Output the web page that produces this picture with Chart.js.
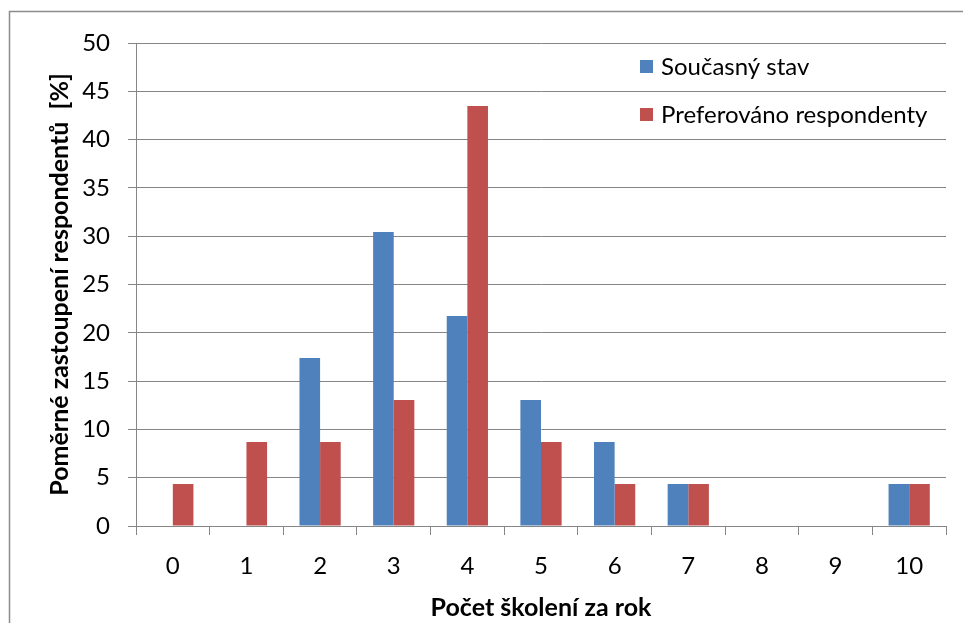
<!DOCTYPE html>
<html><head><meta charset="utf-8">
<script src="https://cdn.jsdelivr.net/npm/chart.js@4/dist/chart.umd.min.js"></script>
<style>html,body{margin:0;padding:0;background:#fff}#wrap{width:963px;height:623px}</style>
</head><body><div id="wrap"><canvas id="c" width="963" height="623"></canvas></div>
<script>
const categories = ["0","1","2","3","4","5","6","7","8","9","10"];
const currentState = [0, 0, 17.39, 30.43, 21.74, 13.04, 8.70, 4.35, 0, 0, 4.35];
const preferred = [4.35, 8.70, 8.70, 13.04, 43.48, 8.70, 4.35, 4.35, 0, 0, 4.35];
const seriesNames = ["Současný stav", "Preferováno respondenty"];
const yTicks = [0,5,10,15,20,25,30,35,40,45,50];

const FONT = "Lato, 'Liberation Sans', sans-serif";
const GRID = "#868686";

const frame = {
  id: 'frame',
  beforeDraw(chart) {
    const ctx = chart.ctx;
    ctx.save();
    ctx.fillStyle = '#fff';
    ctx.fillRect(0, 0, chart.width, chart.height);
    ctx.strokeStyle = '#8c8c8c';
    ctx.lineWidth = 1.5;
    ctx.strokeRect(9.5, 11.5, 1200, 1200);
    ctx.restore();
  }
};
const legendPlugin = {
  id: 'customLegend',
  afterDraw(chart) {
    const ctx = chart.ctx;
    ctx.save();
    ctx.font = "24px " + FONT;
    ctx.textBaseline = 'middle';
    chart.data.datasets.forEach((ds, i) => {
      const y = 67 + i * 48;
      ctx.fillStyle = ds.backgroundColor;
      ctx.fillRect(640, y - 7, 13, 13);
      ctx.fillStyle = '#000';
      ctx.fillText(ds.label, 661, y);
    });
    ctx.restore();
  }
};

new Chart(document.getElementById('c'), {
  type: 'bar',
  data: {
    labels: categories,
    datasets: [
      { label: seriesNames[0], data: currentState, backgroundColor: '#4F81BD', barPercentage: 1, categoryPercentage: 0.56 },
      { label: seriesNames[1], data: preferred, backgroundColor: '#C0504D', barPercentage: 1, categoryPercentage: 0.56 }
    ]
  },
  options: {
    responsive: false,
    animation: false,
    devicePixelRatio: 1,
    layout: { padding: { left: 0, top: 43, right: 17, bottom: 0 } },
    plugins: { legend: { display: false }, tooltip: { enabled: false } },
    scales: {
      x: {
        afterFit(s) { s.height = 97; },
        grid: { display: true, drawOnChartArea: false, offset: true, tickLength: 9, color: GRID, tickColor: GRID },
        border: { color: GRID, width: 1 },
        ticks: { color: '#000', font: { family: FONT, size: 24 }, padding: 17, maxRotation: 0 },
        title: { display: true, text: 'Počet školení za rok', color: '#000', font: { family: FONT, size: 25, weight: 'bold' }, padding: { top: 0, bottom: 0 } }
      },
      y: {
        min: 0, max: 50,
        afterFit(s) { s.width = 136; },
        afterBuildTicks(s) { s.ticks = yTicks.map(v => ({ value: v })); },
        grid: { color: GRID, tickColor: GRID, tickLength: 8, lineWidth: 1 },
        border: { color: GRID, width: 1 },
        ticks: { color: '#000', font: { family: FONT, size: 24 }, padding: 18 },
        title: { display: true, text: 'Poměrné zastoupení respondentů  [%]', color: '#000', font: { family: FONT, size: 25, weight: 'bold' }, padding: { top: 45, bottom: 0 } }
      }
    }
  },
  plugins: [frame, legendPlugin]
});
</script></body></html>
